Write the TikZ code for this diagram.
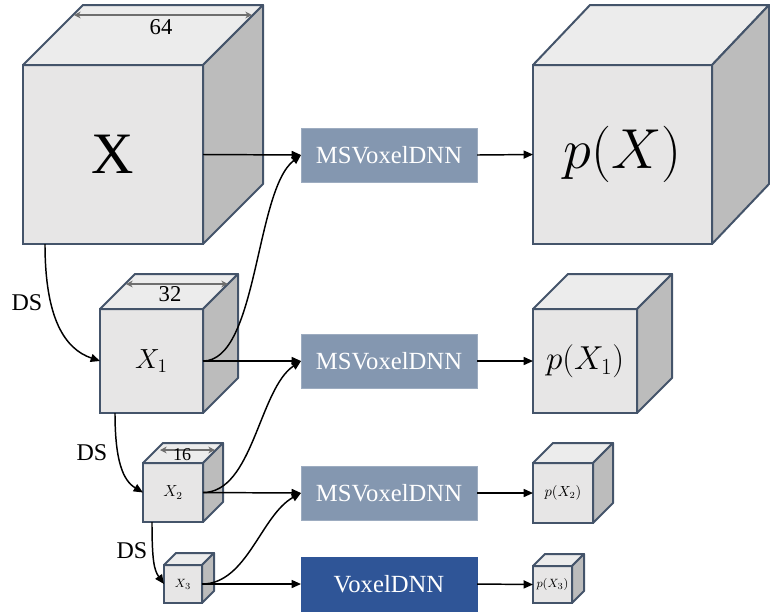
\documentclass[tikz,border=0pt]{standalone}
\usepackage{fontspec}
\setmainfont{Liberation Serif}
\usepackage{xcolor}
\usepackage{graphicx}
\usetikzlibrary{arrows.meta}

\definecolor{edgec}{RGB}{68,84,106}
\definecolor{frontc}{RGB}{231,230,230}
\definecolor{topc}{RGB}{236,236,236}
\definecolor{sidec}{RGB}{188,188,188}
\definecolor{msnetc}{RGB}{132,151,176}
\definecolor{netc}{RGB}{47,85,151}
\definecolor{dimc}{RGB}{110,110,110}

\begin{document}
\begin{tikzpicture}[x=0.75pt,y=0.75pt,yscale=-1,xscale=1,
    face/.style={draw=edgec, line width=1.5, fill=frontc, inner sep=0, outer sep=0, anchor=north west},
    topf/.style={draw=edgec, line width=1.5, fill=topc, line join=round},
    sidef/.style={draw=edgec, line width=1.5, fill=sidec, line join=round},
    msnet/.style={fill=msnetc, draw=msnetc!80!white, text=white, minimum width=132pt, minimum height=40.5pt, inner sep=0, outer sep=0, anchor=north west, font=\fontsize{18.5}{20}\selectfont},
    net/.style={msnet, fill=netc, draw=netc},
    flow/.style={-{Triangle[length=7pt,width=6pt]}, line width=1.1, black},
    dimline/.style={{Stealth[length=5pt,width=5pt]}-{Stealth[length=5pt,width=5pt]}, draw=dimc, line width=0.8}]
    \useasboundingbox (0,0) rectangle (770,612);

    %Shape: Cube [id:x0]
    \draw (23,65) node (x0) [face, minimum width=135pt, minimum height=134.25pt, font=\fontsize{44}{44}\selectfont] {X};
    \draw [topf] (x0.north west) -- ++(60,-60) -- ++(180,0) -- (x0.north east) -- cycle ;
    \draw [sidef] (x0.north east) -- ++(60,-60) -- ++(0,179) -- (x0.south east) -- cycle ;
    %Shape: Cube [id:px0]
    \draw (533,65) node (px0) [face, minimum width=134.25pt, minimum height=134.25pt, font=\fontsize{24}{24}\selectfont] {\scalebox{1.7}{$p(X)$}};
    \draw [topf] (px0.north west) -- ++(57,-60) -- ++(179,0) -- (px0.north east) -- cycle ;
    \draw [sidef] (px0.north east) -- ++(57,-60) -- ++(0,179) -- (px0.south east) -- cycle ;

    %Shape: Cube [id:x1]
    \draw (100,309) node (x1) [face, minimum width=77.25pt, minimum height=78pt, font=\fontsize{22}{22}\selectfont] {$X_1$};
    \draw [topf] (x1.north west) -- ++(35,-35) -- ++(103,0) -- (x1.north east) -- cycle ;
    \draw [sidef] (x1.north east) -- ++(35,-35) -- ++(0,104) -- (x1.south east) -- cycle ;
    %Shape: Cube [id:px1]
    \draw (533,309) node (px1) [face, minimum width=78pt, minimum height=78pt, font=\fontsize{24}{24}\selectfont] {$p(X_1)$};
    \draw [topf] (px1.north west) -- ++(35,-35) -- ++(104,0) -- (px1.north east) -- cycle ;
    \draw [sidef] (px1.north east) -- ++(35,-35) -- ++(0,104) -- (px1.south east) -- cycle ;

    %Shape: Cube [id:x2]
    \draw (143,463) node (x2) [face, minimum width=45pt, minimum height=44.25pt, font=\fontsize{12}{12}\selectfont] {$X_2$};
    \draw [topf] (x2.north west) -- ++(20,-20) -- ++(60,0) -- (x2.north east) -- cycle ;
    \draw [sidef] (x2.north east) -- ++(20,-20) -- ++(0,59) -- (x2.south east) -- cycle ;
    %Shape: Cube [id:px2]
    \draw (533,463) node (px2) [face, minimum width=45pt, minimum height=45pt, font=\fontsize{10.5}{11}\selectfont] {$p(X_2)$};
    \draw [topf] (px2.north west) -- ++(20,-20) -- ++(60,0) -- (px2.north east) -- cycle ;
    \draw [sidef] (px2.north east) -- ++(20,-20) -- ++(0,60) -- (px2.south east) -- cycle ;

    %Shape: Cube [id:x3]
    \draw (164,565) node (x3) [face, minimum width=28.5pt, minimum height=28.5pt, font=\fontsize{9.5}{10}\selectfont] {$X_3$};
    \draw [topf] (x3.north west) -- ++(12,-12) -- ++(38,0) -- (x3.north east) -- cycle ;
    \draw [sidef] (x3.north east) -- ++(12,-12) -- ++(0,38) -- (x3.south east) -- cycle ;
    %Shape: Cube [id:px3]
    \draw (533,566) node (px3) [face, minimum width=29.25pt, minimum height=27.75pt, font=\fontsize{9.5}{10}\selectfont] {$p(X_3)$};
    \draw [topf] (px3.north west) -- ++(12,-12) -- ++(39,0) -- (px3.north east) -- cycle ;
    \draw [sidef] (px3.north east) -- ++(12,-12) -- ++(0,37) -- (px3.south east) -- cycle ;

    %Dimension Lines
    \draw [dimline] (74,15) -- (252,15) ;
    \draw [dimline] (126,284) -- (228,284) ;
    \draw [dimline] (160,450) -- (215,450) ;
    % Text Node
    \draw (161,27) node (d64) [inner sep=0.75pt, font=\fontsize{17}{17}\selectfont] {64};
    % Text Node
    \draw (170,294) node (d32) [inner sep=0.75pt, font=\fontsize{17}{17}\selectfont] {32};
    % Text Node
    \draw (182,455) node (d16) [inner sep=0.75pt, font=\fontsize{13.5}{14}\selectfont] {16};

    %Networks
    \draw (301,128) node (net0) [msnet] {MSVoxelDNN};
    \draw (301,334) node (net1) [msnet] {MSVoxelDNN};
    \draw (301,466) node (net2) [msnet] {MSVoxelDNN};
    \draw (301,557) node (net3) [net] {VoxelDNN};

    %Straight Lines
    \draw [flow] (x0.east) -- (net0.west) ;
    \draw [flow] (x1.east) -- (net1.west) ;
    \draw [flow] (x2.east) -- (net2.west) ;
    \draw [flow] (x3.east) -- (net3.west) ;
    \draw [flow] (net0.east) -- (px0.west) ;
    \draw [flow] (net1.east) -- (px1.west) ;
    \draw [flow] (net2.east) -- (px2.west) ;
    \draw [flow] (net3.east) -- (px3.west) ;

    %Curves: context from the lower scale
    \draw [flow] (x1.east) .. controls +(55,0) and +(-46,35) .. (net0.west) ;
    \draw [flow] (x2.east) .. controls +(50,0) and +(-42,28) .. (net1.west) ;
    \draw [flow] (x3.east) .. controls +(45,0) and +(-40,22) .. (net2.west) ;

    %Curves: downsampling
    \draw [flow] ([xshift=16.5pt]x0.south west) .. controls +(0,75) and +(-35,-12) .. (x1.west) ;
    \draw [flow] ([xshift=11.25pt]x1.south west) .. controls +(0,48) and +(-20,-12) .. (x2.west) ;
    \draw [flow] ([xshift=6.75pt]x2.south west) .. controls +(0,38) and +(-10,-14) .. (x3.west) ;
    % Text Node
    \draw (27,303) node (ds0) [inner sep=0.75pt, font=\fontsize{18}{18}\selectfont] {DS};
    % Text Node
    \draw (92,453) node (ds1) [inner sep=0.75pt, font=\fontsize{18}{18}\selectfont] {DS};
    % Text Node
    \draw (132,551) node (ds2) [inner sep=0.75pt, font=\fontsize{18}{18}\selectfont] {DS};

\end{tikzpicture}
\end{document}
